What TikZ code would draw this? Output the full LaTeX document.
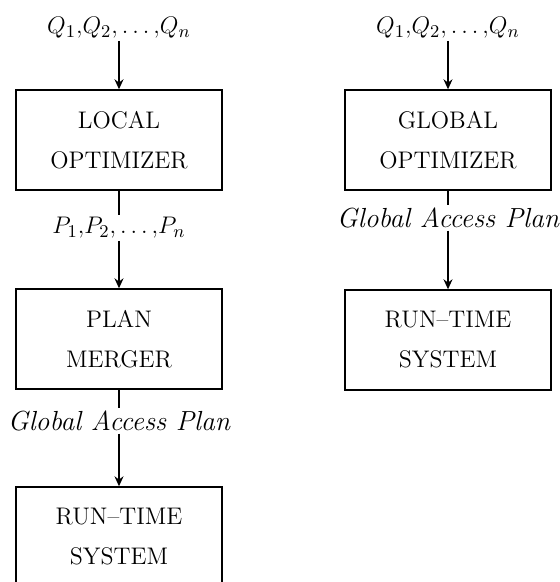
\documentclass[tikz,border=0pt]{standalone}
\usetikzlibrary{arrows.meta}
\begin{document}
\begin{tikzpicture}[x=0.5pt,y=-0.5pt,
  blk/.style={draw,line width=0.7pt,minimum width=103pt,minimum height=50pt,inner sep=0pt,align=center,font=\fontsize{12}{20}\selectfont},
  lbl/.style={inner sep=1pt,font=\fontsize{13}{15}\selectfont},
  ilbl/.style={inner sep=1pt,font=\fontsize{13.8}{16}\selectfont\itshape},
  conn/.style={line width=0.7pt},
  arr/.style={line width=0.7pt,-{Stealth[length=5pt,width=4.5pt]}}]
\useasboundingbox (0,0) rectangle (559,582);
% left column
\node[lbl] (q1) at (119,28) {$Q_1{,}Q_2{,}\ldots{,}Q_n$};
\node[blk] (lo) at (119,140) {LOCAL\\OPTIMIZER};
\node[lbl] (p) at (119,228) {$P_1{,}P_2{,}\ldots{,}P_n$};
\node[blk] (pm) at (119,339) {PLAN\\MERGER};
\node[ilbl] (g1) at (119,421) {Global Access Plan};
\node[blk] (rt1) at (119,537) {RUN--TIME\\SYSTEM};
\draw[arr] (q1) -- (lo);
\draw[conn] (lo) -- (p);
\draw[arr] (p) -- (pm);
\draw[conn] (pm) -- (g1);
\draw[arr] (g1) -- (rt1);
% right column
\node[lbl] (q2) at (448,28) {$Q_1{,}Q_2{,}\ldots{,}Q_n$};
\node[blk] (go) at (448,140) {GLOBAL\\OPTIMIZER};
\node[ilbl] (g2) at (448,218) {Global Access Plan};
\node[blk] (rt2) at (448,340) {RUN--TIME\\SYSTEM};
\draw[arr] (q2) -- (go);
\draw[conn] (go) -- (g2);
\draw[arr] (g2) -- (rt2);
\end{tikzpicture}
\end{document}
